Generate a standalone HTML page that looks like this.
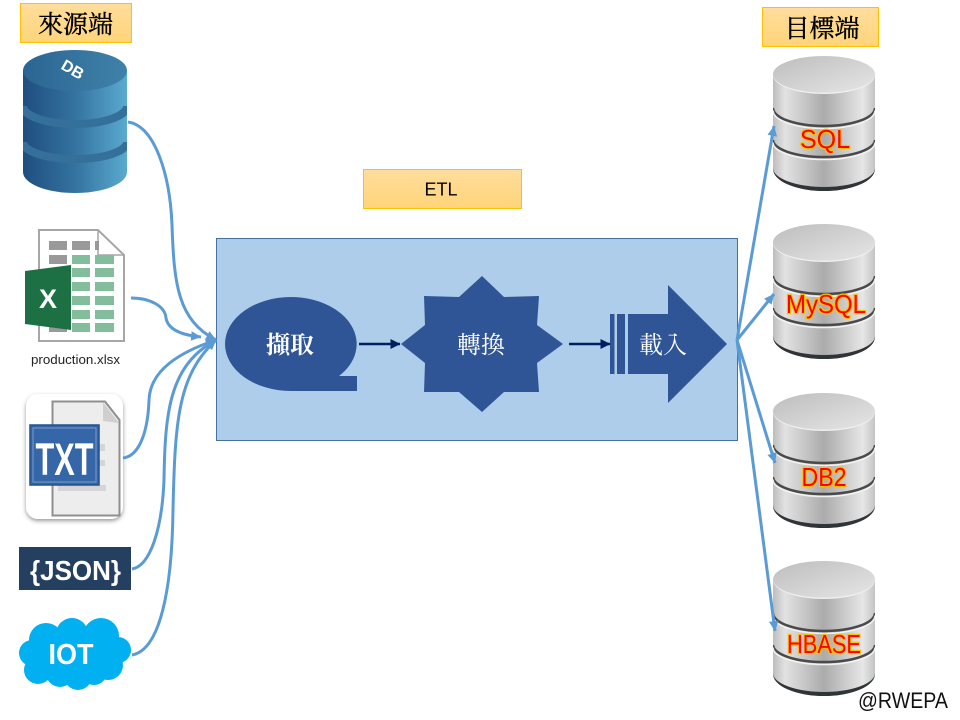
<!DOCTYPE html>
<html lang="zh-TW">
<head>
<meta charset="utf-8">
<title>ETL</title>
<style>
html,body{margin:0;padding:0;background:#fff;width:960px;height:720px;overflow:hidden}
svg{display:block}
.ser{font-family:"Liberation Serif","Noto Serif CJK TC","Noto Serif CJK SC",serif}
.san{font-family:"Liberation Sans","Noto Sans CJK TC",sans-serif}
.lab{font-family:"Liberation Sans",sans-serif;font-size:26px;fill:#f00;stroke:#FFC000;stroke-width:2.4px;paint-order:stroke;text-anchor:middle}
</style>
</head>
<body>
<svg width="960" height="720" viewBox="0 0 960 720" xmlns="http://www.w3.org/2000/svg">
<defs>
<linearGradient id="hd" x1="0" y1="0" x2="0" y2="1"><stop offset="0" stop-color="#FFDD9C"/><stop offset="1" stop-color="#FFD479"/></linearGradient>
<linearGradient id="bs" x1="0" y1="0" x2="1" y2="0"><stop offset="0" stop-color="#1F4E80"/><stop offset=".5" stop-color="#34739F"/><stop offset="1" stop-color="#5AAAD0"/></linearGradient>
<linearGradient id="bt" x1="0" y1="0" x2="1" y2="0"><stop offset="0" stop-color="#2B6592"/><stop offset="1" stop-color="#3F82A9"/></linearGradient>
<linearGradient id="ss" x1="0" y1="0" x2="1" y2="0"><stop offset="0" stop-color="#BDBDBD"/><stop offset=".12" stop-color="#E2E2E2"/><stop offset=".5" stop-color="#ABABAB"/><stop offset=".88" stop-color="#E6E6E6"/><stop offset="1" stop-color="#C4C4C4"/></linearGradient>
<linearGradient id="st" x1="0" y1="0" x2="1" y2="1"><stop offset="0" stop-color="#BDBDBD"/><stop offset="1" stop-color="#E6E6E6"/></linearGradient>
<clipPath id="bc"><path d="M23 70 V172 A52 21 0 0 0 127 172 V70z"/></clipPath>
<clipPath id="sc"><path d="M0 19 V112 a51 19 0 0 0 102 0 V19z"/></clipPath>
<g id="cyl">
<path d="M0 108 v5 a51 22 0 0 0 102 0 v-5z" fill="#2F3436"/>
<path d="M0 19 V112 a51 19 0 0 0 102 0 V19z" fill="url(#ss)"/>
<g clip-path="url(#sc)">
<path d="M0 52 a51 18 0 0 0 102 0" fill="none" stroke="#4A4A4A" stroke-width="2.500"/>
<path d="M0 54.500 a51 18 0 0 0 102 0" fill="none" stroke="#F2F2F2" stroke-width="1.500"/>
<path d="M0 84 a51 17 0 0 0 102 0" fill="none" stroke="#4A4A4A" stroke-width="2.500"/>
<path d="M0 86.500 a51 17 0 0 0 102 0" fill="none" stroke="#F2F2F2" stroke-width="1.500"/>
</g>
<ellipse cx="51" cy="19" rx="51" ry="19" fill="#F0F0F0"/>
<ellipse cx="51" cy="18.300" rx="51" ry="18.300" fill="url(#st)"/>
</g>
<marker id="ah" markerWidth="4" markerHeight="4" refX="3.300" refY="1.600" orient="auto" markerUnits="strokeWidth"><path d="M0 0 L3.400 1.600 L0 3.200z" fill="#5B9BD5"/></marker>
<marker id="ad" markerWidth="5" markerHeight="5" refX="3.800" refY="2" orient="auto" markerUnits="strokeWidth"><path d="M0 0 L4 2 L0 4z" fill="#002060"/></marker>
<filter id="sh" x="-10%" y="-10%" width="120%" height="120%"><feDropShadow dx="0" dy="2" stdDeviation="2" flood-color="#555" flood-opacity=".6"/></filter>
</defs>

<!-- headers -->
<rect x="20.500" y="3.500" width="111" height="39" fill="url(#hd)" stroke="#FFC000"/>
<text x="75.500" y="33" class="ser" font-size="25" text-anchor="middle" fill="#000" stroke="#000" stroke-width=".4">來源端</text>
<rect x="762.500" y="7.500" width="116" height="39" fill="url(#hd)" stroke="#FFC000"/>
<text x="822" y="37" class="ser" font-size="25" text-anchor="middle" fill="#000" stroke="#000" stroke-width=".4">目標端</text>
<rect x="363.500" y="169.500" width="158" height="39" fill="url(#hd)" stroke="#FFC000"/>
<text x="441" y="195.500" class="san" font-size="18" text-anchor="middle" fill="#000">ETL</text>

<!-- main box -->
<rect x="216.500" y="238.500" width="521" height="202" fill="#AECDEA" stroke="#41719C"/>
<path d="M291 391 H357 V376 H339 A66 47 0 0 0 291 297 A66 47 0 0 0 291 391z" fill="#2F5597"/>
<path d="M482 276 L504 297 L539 296 L537 325 L563 344 L537 363 L539 392 L504 392 L482 412 L459 392 L424 392 L425 363 L401 344 L425 325 L424 296 L459 297z" fill="#2F5597"/>
<rect x="610" y="314" width="4.500" height="60" fill="#2F5597"/>
<rect x="617" y="314" width="8" height="60" fill="#2F5597"/>
<path d="M628 314 H668 V285 L727 344 L668 403 V374 H628z" fill="#2F5597"/>
<path d="M359 344 H400" stroke="#002060" stroke-width="2.500" fill="none" marker-end="url(#ad)"/>
<path d="M569 344 H610" stroke="#002060" stroke-width="2.500" fill="none" marker-end="url(#ad)"/>
<text x="290" y="353" class="ser" font-size="24" text-anchor="middle" fill="#fff" font-weight="bold">擷取</text>
<text x="481" y="353" class="ser" font-size="24" text-anchor="middle" fill="#fff">轉換</text>
<text x="663" y="353" class="ser" font-size="24" text-anchor="middle" fill="#fff">載入</text>

<!-- blue DB -->
<path d="M23 70 V172 A52 21 0 0 0 127 172 V70z" fill="url(#bs)"/>
<g clip-path="url(#bc)">
<path d="M23 106 A52 18 0 0 0 127 106" fill="none" stroke="#35709B" stroke-width="8"/>
<path d="M23 142 A52 17 0 0 0 127 142" fill="none" stroke="#35709B" stroke-width="8"/>
</g>
<ellipse cx="75" cy="70.500" rx="52" ry="20.500" fill="url(#bt)"/>
<text x="73" y="75" class="san" font-size="16" font-weight="bold" fill="#fff" text-anchor="middle" transform="rotate(30 73 69)">DB</text>

<!-- excel -->
<path d="M39 230 H98 L124 255 V341 H39z" fill="#fff" stroke="#A6A6A6" stroke-width="2"/>
<path d="M98 230 V255 H124" fill="none" stroke="#A6A6A6" stroke-width="1.500"/>
<g fill="#999">
<rect x="49" y="241" width="18" height="9"/><rect x="72" y="241" width="18" height="9"/><rect x="95" y="241" width="4" height="9"/>
<rect x="49" y="255" width="18" height="9"/><rect x="49" y="323" width="18" height="9"/>
</g>
<g fill="#84BD9C">
<rect x="72" y="255" width="18" height="9"/><rect x="95" y="255" width="19" height="9"/>
<rect x="72" y="268" width="18" height="9"/><rect x="95" y="268" width="19" height="9"/>
<rect x="72" y="282" width="18" height="9"/><rect x="95" y="282" width="19" height="9"/>
<rect x="72" y="296" width="18" height="9"/><rect x="95" y="296" width="19" height="9"/>
<rect x="72" y="310" width="18" height="9"/><rect x="95" y="310" width="19" height="9"/>
<rect x="72" y="323" width="18" height="9"/><rect x="95" y="323" width="19" height="9"/>
</g>
<path d="M25 271 L71 265 V330 L25 324z" fill="#1D7044"/>
<text x="48" y="308" class="san" font-size="27" font-weight="bold" fill="#fff" text-anchor="middle">X</text>
<text x="75.500" y="364" class="san" font-size="12.500" fill="#222" text-anchor="middle" textLength="89" lengthAdjust="spacingAndGlyphs">production.xlsx</text>

<!-- txt -->
<rect x="26" y="394" width="97" height="125" rx="12" fill="#fff" filter="url(#sh)"/>
<path d="M52.500 401.500 H105 L119.500 420 V515.500 H52.500z" fill="#EDEDED" stroke="#8F8F8F" stroke-width="2"/>
<path d="M103 402 V421 L119 423z" fill="#CFCFCF"/>
<rect x="99" y="444" width="6" height="7" fill="#D5D5D5"/>
<rect x="99" y="460" width="6" height="6" fill="#D5D5D5"/>
<rect x="58" y="485" width="48" height="6" fill="#D5D5D5"/>
<rect x="30" y="425" width="69" height="60" fill="#3566A8" stroke="#23508F" stroke-width="1.500"/>
<rect x="33" y="428" width="63" height="54" fill="none" stroke="#7A9CCB"/>
<text x="64.500" y="475" class="san" font-size="45" font-weight="bold" fill="#fff" text-anchor="middle" textLength="58" lengthAdjust="spacingAndGlyphs">TXT</text>

<!-- json -->
<rect x="19" y="547" width="112" height="43" fill="#243F5F"/>
<text x="75.500" y="580" class="san" font-size="28" font-weight="bold" fill="#fff" text-anchor="middle" textLength="91" lengthAdjust="spacingAndGlyphs">{JSON}</text>

<!-- iot cloud -->
<g fill="#00B0F0">
<ellipse cx="76" cy="654" rx="46" ry="27"/>
<circle cx="32" cy="653" r="13"/>
<circle cx="46" cy="640" r="17"/>
<circle cx="72" cy="634" r="16"/>
<circle cx="101" cy="636" r="18"/>
<circle cx="118" cy="650" r="13"/>
<circle cx="108" cy="665" r="15"/>
<circle cx="38" cy="670" r="14"/>
<circle cx="60" cy="673" r="14"/>
<circle cx="78" cy="676" r="14"/>
<circle cx="94" cy="672" r="13"/>
</g>
<text x="71" y="664" class="san" font-size="29" font-weight="bold" fill="#fff" text-anchor="middle" textLength="45" lengthAdjust="spacingAndGlyphs">IOT</text>

<!-- silver DBs -->
<use href="#cyl" x="773" y="56"/>
<use href="#cyl" x="773" y="224"/>
<use href="#cyl" x="773" y="393"/>
<use href="#cyl" x="773" y="561"/>
<text x="825" y="148" class="lab" textLength="50" lengthAdjust="spacingAndGlyphs">SQL</text>
<text x="826" y="313" class="lab" textLength="80" lengthAdjust="spacingAndGlyphs">MySQL</text>
<text x="824" y="486" class="lab" textLength="45" lengthAdjust="spacingAndGlyphs">DB2</text>
<text x="824" y="653" class="lab" textLength="74" lengthAdjust="spacingAndGlyphs">HBASE</text>

<!-- left connectors -->
<g fill="none" stroke="#5B9BD5" stroke-width="3">
<path d="M128 122 C155 126 170 175 172 225 C174 285 178 320 216 340" marker-end="url(#ah)"/>
<path d="M131 298 C150 298 165 306 166 318 C168 330 182 335 201 337" marker-end="url(#ah)"/>
<path d="M123 458 C140 456 148 430 149 400 C150 370 180 352 216 340" marker-end="url(#ah)"/>
<path d="M132 569 C150 566 162 530 164 480 C165 410 170 365 216 340" marker-end="url(#ah)"/>
<path d="M132 655 C160 650 172 590 173 510 C175 420 178 375 216 340" marker-end="url(#ah)"/>
</g>
<!-- right connectors -->
<g fill="none" stroke="#5B9BD5" stroke-width="3">
<path d="M737 340 L774 126" marker-end="url(#ah)"/>
<path d="M737 340 L774 294" marker-end="url(#ah)"/>
<path d="M737 340 L775 463" marker-end="url(#ah)"/>
<path d="M737 340 L775 631" marker-end="url(#ah)"/>
</g>

<text x="858" y="708" class="san" font-size="22" fill="#111" textLength="90" lengthAdjust="spacingAndGlyphs">@RWEPA</text>
</svg>
</body>
</html>
